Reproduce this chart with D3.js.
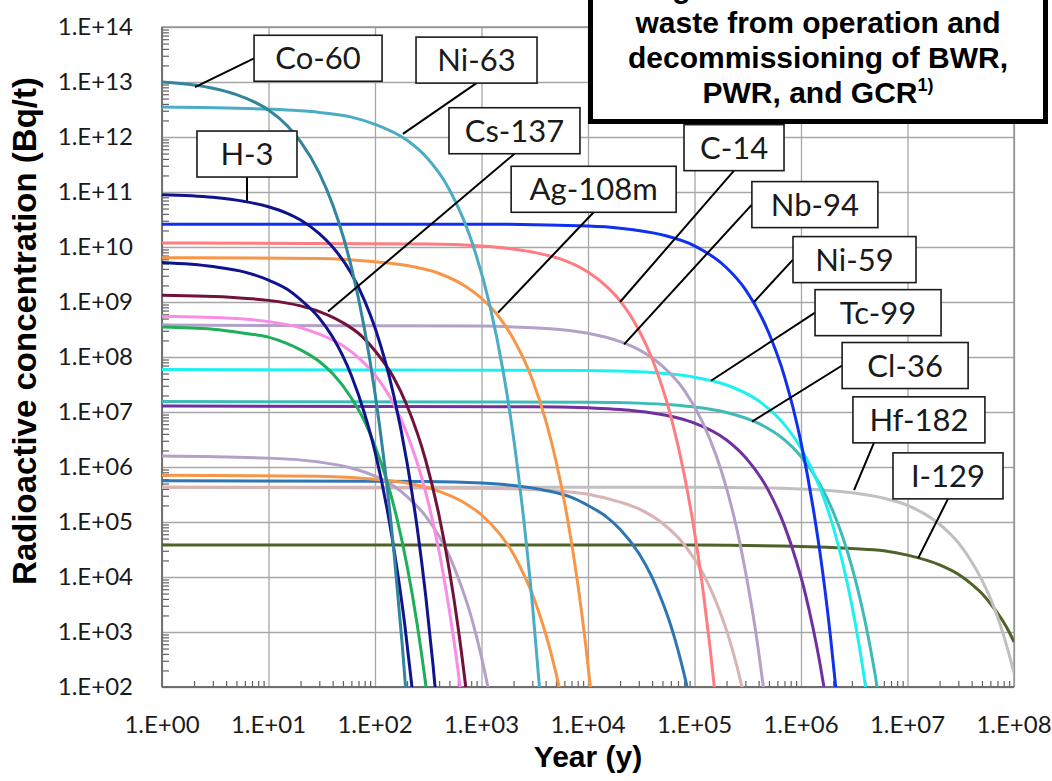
<!DOCTYPE html>
<html><head><meta charset="utf-8">
<script src="https://cdn.jsdelivr.net/npm/d3@7"></script>
<style>body{margin:0;background:#fff}</style>
</head><body>
<svg id="c" width="1052" height="781" xmlns="http://www.w3.org/2000/svg"></svg>
<script>
// ---------- DATA ----------
const xTickValues = [1, 1e1, 1e2, 1e3, 1e4, 1e5, 1e6, 1e7, 1e8];
const xTickLabels = ["1.E+00","1.E+01","1.E+02","1.E+03","1.E+04","1.E+05","1.E+06","1.E+07","1.E+08"];
const yTickValues = [1e2,1e3,1e4,1e5,1e6,1e7,1e8,1e9,1e10,1e11,1e12,1e13,1e14];
const yTickLabels = ["1.E+02","1.E+03","1.E+04","1.E+05","1.E+06","1.E+07","1.E+08","1.E+09","1.E+10","1.E+11","1.E+12","1.E+13","1.E+14"];

const xTitle = "Year (y)";
const yTitle = "Radioactive concentration (Bq/t)";
const titleLines = ["Change in the concentration of", "waste from operation and", "decommissioning of BWR,", "PWR, and GCR"];
const titleNote = "1)";

// series: [year, concentration Bq/t]
const co60  = [[1,1.0e13],[2,8.8e12],[3,7.7e12],[5,5.9e12],[8,4.0e12],[10,3.1e12],[15,1.6e12],[20,8.2e11],[30,2.2e11],[40,5.9e10],[50,1.6e10],[60,4.3e9],[80,3.1e8],[100,2.2e7],[120,1.6e6],[150,3.1e4],[180,6.0e2],[200,44]];
const ni63  = [[1,3.5e12],[10,3.2e12],[30,2.8e12],[60,2.3e12],[100,1.7e12],[200,8.7e11],[300,4.4e11],[500,1.1e11],[800,1.35e10],[1200,8.5e8],[1600,5.4e7],[2000,3.4e6],[2500,1.05e5],[3000,3.3e3],[3500,1.0e2],[4000,3.2]];
const h3    = [[1,8.9e10],[3,8.0e10],[6,6.7e10],[10,5.4e10],[15,4.1e10],[20,3.1e10],[30,1.75e10],[40,1.0e10],[60,3.3e9],[80,1.05e9],[100,3.4e8],[150,2.0e7],[200,1.2e6],[250,7.4e4],[300,4.4e3],[350,2.6e2],[400,16]];
const navyB = [[1,5.2e9],[3,4.4e9],[6,3.5e9],[10,2.5e9],[15,1.7e9],[20,1.1e9],[30,5.1e8],[40,2.3e8],[60,4.6e7],[80,9.2e6],[100,1.9e6],[130,1.7e5],[160,1.5e4],[190,1.4e3],[220,1.2e2],[250,11]];
const ni59  = [[1,2.6e10],[1000,2.6e10],[1e4,2.4e10],[2e4,2.2e10],[5e4,1.66e10],[1e5,1.05e10],[2e5,4.2e9],[3e5,1.7e9],[5e5,2.7e8],[7e5,4.4e7],[1e6,2.8e6],[1.3e6,1.8e5],[1.6e6,1.2e4],[1.9e6,7.6e2],[2.2e6,49]];
const c14   = [[1,1.18e10],[300,1.13e10],[1000,1.04e10],[3000,8.1e9],[6000,5.7e9],[1e4,3.5e9],[1.5e4,1.9e9],[2e4,1.05e9],[3e4,3.1e8],[4e4,9.3e7],[6e4,8.3e6],[8e4,7.4e5],[1e5,6.6e4],[1.2e5,5.9e3],[1.4e5,5.2e2],[1.6e5,47]];
const ag108m= [[1,6.4e9],[30,6.2e9],[100,5.4e9],[200,4.6e9],[400,3.3e9],[700,1.96e9],[1000,1.17e9],[1500,5.0e8],[2000,2.1e8],[3000,3.9e7],[4000,7.1e6],[5000,1.3e6],[6500,1.0e5],[8000,7.8e3],[9500,6.0e2],[11000,47]];
const cs137 = [[1,1.32e9],[5,1.2e9],[10,1.07e9],[20,8.5e8],[30,6.7e8],[50,4.2e8],[75,2.4e8],[100,1.3e8],[150,4.2e7],[200,1.3e7],[300,1.3e6],[400,1.3e5],[500,1.3e4],[600,1.3e3],[700,1.3e2],[800,13]];
const pinkS = [[1,5.5e8],[5,5.0e8],[10,4.4e8],[20,3.4e8],[30,2.6e8],[50,1.6e8],[75,8.6e7],[100,4.7e7],[150,1.4e7],[200,4.0e6],[300,3.4e5],[400,2.9e4],[500,2.4e3],[600,2.1e2],[700,18]];
const greenS= [[1,3.5e8],[3,3.2e8],[6,2.7e8],[10,2.3e8],[15,1.75e8],[20,1.35e8],[30,8.3e7],[40,5.0e7],[60,1.8e7],[80,6.7e6],[100,2.4e6],[130,5.4e5],[160,1.2e5],[200,1.6e4],[250,1.3e3],[300,1.07e2],[330,23]];
const nb94  = [[1,3.8e8],[1000,3.65e8],[3000,3.4e8],[6000,3.1e8],[1e4,2.7e8],[2e4,1.9e8],[3e4,1.36e8],[5e4,6.8e7],[8e4,2.5e7],[1.2e5,6.3e6],[1.6e5,1.6e6],[2e5,4.1e5],[2.5e5,7.4e4],[3e5,1.3e4],[3.5e5,2.4e3],[4e5,4.4e2],[4.5e5,80]];
const lavB  = [[1,1.58e6],[10,1.45e6],[30,1.23e6],[60,9.6e5],[100,6.8e5],[150,4.5e5],[200,2.9e5],[300,1.27e5],[400,5.5e4],[500,2.4e4],[600,1.0e4],[800,1.9e3],[1000,3.5e2],[1200,66]];
const tc99  = [[1,5.9e7],[1e4,5.7e7],[3e4,5.4e7],[6e4,4.9e7],[1e5,4.3e7],[2e5,3.1e7],[4e5,1.6e7],[7e5,5.9e6],[1e6,2.2e6],[1.5e6,4.3e5],[2e6,8.3e4],[2.5e6,1.6e4],[3e6,3.1e3],[3.5e6,6.0e2],[4e6,1.16e2],[4.5e6,22]];
const cl36  = [[1,1.55e7],[1e4,1.51e7],[3e4,1.45e7],[6e4,1.35e7],[1e5,1.23e7],[2e5,9.8e6],[4e5,6.2e6],[7e5,3.1e6],[1e6,1.55e6],[1.5e6,4.9e5],[2e6,1.55e5],[2.5e6,4.9e4],[3e6,1.55e4],[3.5e6,4.9e3],[4e6,1.55e3],[4.5e6,4.9e2],[5e6,1.55e2],[5.5e6,49]];
const purpS = [[1,1.28e7],[3000,1.25e7],[1e4,1.19e7],[2e4,1.11e7],[4e4,9.6e6],[7e4,7.8e6],[1e5,6.3e6],[2e5,3.1e6],[3e5,1.5e6],[5e5,3.6e5],[7e5,8.5e4],[9e5,2.0e4],[1.1e6,4.9e3],[1.3e6,1.16e3],[1.5e6,2.8e2],[1.7e6,66]];
const blueS = [[1,5.6e5],[300,5.46e5],[1000,5.1e5],[2000,4.6e5],[4000,3.75e5],[7000,2.8e5],[1e4,2.0e5],[1.5e4,1.23e5],[2e4,7.4e4],[3e4,2.7e4],[4e4,9.8e3],[5e4,3.5e3],[6e4,1.3e3],[7e4,4.7e2],[8e4,1.7e2],[9e4,62]];
const rosyS = [[1,4.3e5],[1000,4.1e5],[3000,3.9e5],[6000,3.6e5],[1e4,3.2e5],[2e4,2.3e5],[3e4,1.74e5],[5e4,9.5e4],[8e4,3.9e4],[1.2e5,1.17e4],[1.6e5,3.5e3],[2e5,1.07e3],[2.5e5,2.4e2],[3e5,54]];
const hf182 = [[1,4.3e5],[1e5,4.3e5],[1e6,4.0e5],[3e6,3.4e5],[6e6,2.7e5],[1e7,2.0e5],[2e7,9.1e4],[3e7,4.2e4],[4e7,1.9e4],[5e7,8.8e3],[6e7,4.1e3],[7e7,1.9e3],[8e7,8.6e2],[9e7,3.9e2],[1e8,1.8e2]];
const i129  = [[1,3.8e4],[1e5,3.8e4],[1e6,3.6e4],[3e6,3.3e4],[6e6,3.0e4],[1e7,2.5e4],[2e7,1.66e4],[3e7,1.12e4],[4e7,7.4e3],[5e7,5.0e3],[6e7,3.3e3],[7e7,2.2e3],[8e7,1.5e3],[9e7,1.0e3],[1e8,6.6e2]];
const am241 = [[1,7.1e5],[30,6.8e5],[100,6.0e5],[200,5.1e5],[400,3.6e5],[700,2.2e5],[1000,1.35e5],[1500,5.9e4],[2000,2.6e4],[2500,1.1e4],[3000,4.9e3],[3500,2.1e3],[4000,9.3e2],[4500,4.1e2],[5000,1.8e2],[5500,78]];

const seriesList = [i129, hf182, rosyS, blueS, am241, lavB, purpS, cl36, tc99, nb94, ag108m, c14, ni59, greenS, pinkS, cs137, navyB, h3, ni63, co60];

// label annotations: text, box centre (year, conc), leader tip (year, conc)
const labelNames = ["Co-60","Ni-63","H-3","Cs-137","Ag-108m","C-14","Nb-94","Ni-59","Tc-99","Cl-36","Hf-182","I-129"];
const labelBoxAt = [[29.2,2.7e13],[898,2.5e13],[6.28,4.9e11],[2040,1.3e12],[1.13e4,1.12e11],[2.35e5,6.4e11],[1.35e6,5.9e10],[3.18e6,5.9e9],[5.29e6,6.4e8],[9.5e6,7.0e7],[1.28e7,7.2e6],[2.4e7,6.9e5]];
const labelTipAt = [[2.04,8.1e12],[183,1.14e12],[6.28,6.9e10],[36.2,6.7e8],[1430,6.4e8],[2.0e4,1.0e9],[2.18e4,1.7e8],[3.62e5,1.0e9],[1.43e5,3.7e7],[3.47e5,6.7e6],[3.15e6,3.8e5],[1.26e7,2.2e4]];

// ---------- STYLE / LAYOUT ----------
const seriesColors = ["#4f6228","#c0c0c0","#d8b4b4","#2e75b6","#f79646","#b3a2c7","#7030a0","#3cbcb8","#1ef0f0","#b3a2c7","#f79646","#ff7c80","#1030f0","#1fae5a","#f98ce6","#70123a","#10148c","#10148c","#4bacc6","#31859c"];
const labelW = [128,121,100,131,165,100,126,123,126,126,132,110];
const labelH = 46;
const labelSide = ["left","bottom","bottom","bottom","bottom","bottom","left","left","left","left","bottom","bottom"];
const labelSideOff = [0,0,0,0,0,0,0,0,0,0,-45,0];

const W = 1052, H = 781;
const P = {left:162, right:1014, top:27, bottom:687};
const svg = d3.select("#c");
svg.append("rect").attr("width",W).attr("height",H).attr("fill","#fff");

const x = d3.scaleLog().domain([1,1e8]).range([P.left,P.right]);
const y = d3.scaleLog().domain([1e2,1e14]).range([P.bottom,P.top]);

// grid
const g = svg.append("g");
g.append("g").attr("transform",`translate(0,${P.bottom})`)
  .call(d3.axisBottom(x).tickValues(xTickValues).tickSize(-(P.bottom-P.top)).tickFormat(""))
  .call(s=>{s.select(".domain").remove(); s.selectAll("line").attr("stroke","#a6a6a6").attr("stroke-width",1.3);});
g.append("g").attr("transform",`translate(${P.left},0)`)
  .call(d3.axisLeft(y).tickValues(yTickValues).tickSize(-(P.right-P.left)).tickFormat(""))
  .call(s=>{s.select(".domain").remove(); s.selectAll("line").attr("stroke","#a6a6a6").attr("stroke-width",1.3);});

// minor ticks
const minorX = [], minorY = [];
xTickValues.slice(0,-1).forEach(d=>{for(let k=2;k<10;k++) minorX.push(d*k);});
yTickValues.slice(0,-1).forEach(d=>{for(let k=2;k<10;k++) minorY.push(d*k);});
g.append("g").attr("transform",`translate(0,${P.bottom})`)
  .call(d3.axisTop(x).tickValues(minorX).tickSize(6).tickFormat(""))
  .call(s=>{s.select(".domain").remove(); s.selectAll("line").attr("stroke","#606060").attr("stroke-width",1.2);});
g.append("g").attr("transform",`translate(${P.left},0)`)
  .call(d3.axisRight(y).tickValues(minorY).tickSize(7).tickFormat(""))
  .call(s=>{s.select(".domain").remove(); s.selectAll("line").attr("stroke","#606060").attr("stroke-width",1.2);});

// frame
g.append("rect").attr("x",P.left).attr("y",P.top).attr("width",P.right-P.left).attr("height",P.bottom-P.top)
  .attr("fill","none").attr("stroke","#8c8c8c").attr("stroke-width",1.3);
g.append("line").attr("x1",P.left).attr("x2",P.right).attr("y1",P.bottom).attr("y2",P.bottom).attr("stroke","#6e6e6e").attr("stroke-width",1.8);
g.append("line").attr("x1",P.left).attr("x2",P.left).attr("y1",P.top).attr("y2",P.bottom).attr("stroke","#6e6e6e").attr("stroke-width",1.8);

// curves
svg.append("clipPath").attr("id","clip").append("rect")
  .attr("x",P.left).attr("y",P.top).attr("width",P.right-P.left).attr("height",P.bottom-P.top);
const line = d3.line().x(d=>x(d[0])).y(d=>y(d[1])).curve(d3.curveMonotoneX);
const cg = svg.append("g").attr("clip-path","url(#clip)");
seriesList.forEach((s,i)=>{
  cg.append("path").attr("d",line(s)).attr("fill","none").attr("stroke",seriesColors[i])
    .attr("stroke-width",3).attr("stroke-linejoin","round");
});

// tick labels
const tickFont = "Lato, 'Open Sans', sans-serif";
svg.append("g").selectAll("text").data(xTickValues).join("text")
  .attr("x",d=>x(d)).attr("y",733).attr("text-anchor","middle")
  .attr("font-family",tickFont).attr("font-size",24).attr("fill","#1a1a1a")
  .text((d,i)=>xTickLabels[i]);
svg.append("g").selectAll("text").data(yTickValues).join("text")
  .attr("x",133).attr("y",d=>y(d)+8).attr("text-anchor","end")
  .attr("font-family",tickFont).attr("font-size",24).attr("fill","#1a1a1a")
  .text((d,i)=>yTickLabels[i]);

// axis titles
svg.append("text").attr("x",(P.left+P.right)/2).attr("y",767).attr("text-anchor","middle")
  .attr("font-family","'Liberation Sans', Arial, sans-serif").attr("font-weight","bold").attr("font-size",30)
  .attr("fill","#000").text(xTitle);
svg.append("text").attr("transform","translate(36,331) rotate(-90)").attr("text-anchor","middle")
  .attr("font-family","'Liberation Sans', Arial, sans-serif").attr("font-weight","bold").attr("font-size",33)
  .attr("fill","#000").text(yTitle);

// labels with leaders
const lg = svg.append("g");
labelNames.forEach((name,i)=>{
  const cx = x(labelBoxAt[i][0]), cy = y(labelBoxAt[i][1]);
  const w = labelW[i], h = labelH;
  const tx = x(labelTipAt[i][0]), ty = y(labelTipAt[i][1]);
  let sx, sy;
  if (labelSide[i]==="left"){ sx = cx - w/2; sy = cy + labelSideOff[i]; }
  else { sx = cx + labelSideOff[i]; sy = cy + h/2; }
  lg.append("line").attr("x1",sx).attr("y1",sy).attr("x2",tx).attr("y2",ty)
    .attr("stroke","#000").attr("stroke-width",2);
  lg.append("rect").attr("x",cx-w/2).attr("y",cy-h/2).attr("width",w).attr("height",h)
    .attr("fill","#fff").attr("stroke","#1a1a1a").attr("stroke-width",1.6);
  lg.append("text").attr("x",cx).attr("y",cy+11).attr("text-anchor","middle")
    .attr("font-family",tickFont).attr("font-size",31).attr("fill","#1a1a1a").text(name);
});

// title box
const tb = svg.append("g");
tb.append("rect").attr("x",590.5).attr("y",-40).attr("width",455).attr("height",161.5)
  .attr("fill","#fff").attr("stroke","#000").attr("stroke-width",5);
const tcx = 818;
const baselines = [-2, 33, 68, 103];
titleLines.forEach((t,i)=>{
  const te = tb.append("text").attr("x",tcx).attr("y",baselines[i]).attr("text-anchor","middle")
    .attr("font-family","'Liberation Sans', Arial, sans-serif").attr("font-weight","bold")
    .attr("font-size",30).attr("fill","#000");
  te.append("tspan").text(t);
  if (i===titleLines.length-1){
    te.append("tspan").attr("font-size",18).attr("dy",-12).text(titleNote);
  }
});
</script>
</body></html>
